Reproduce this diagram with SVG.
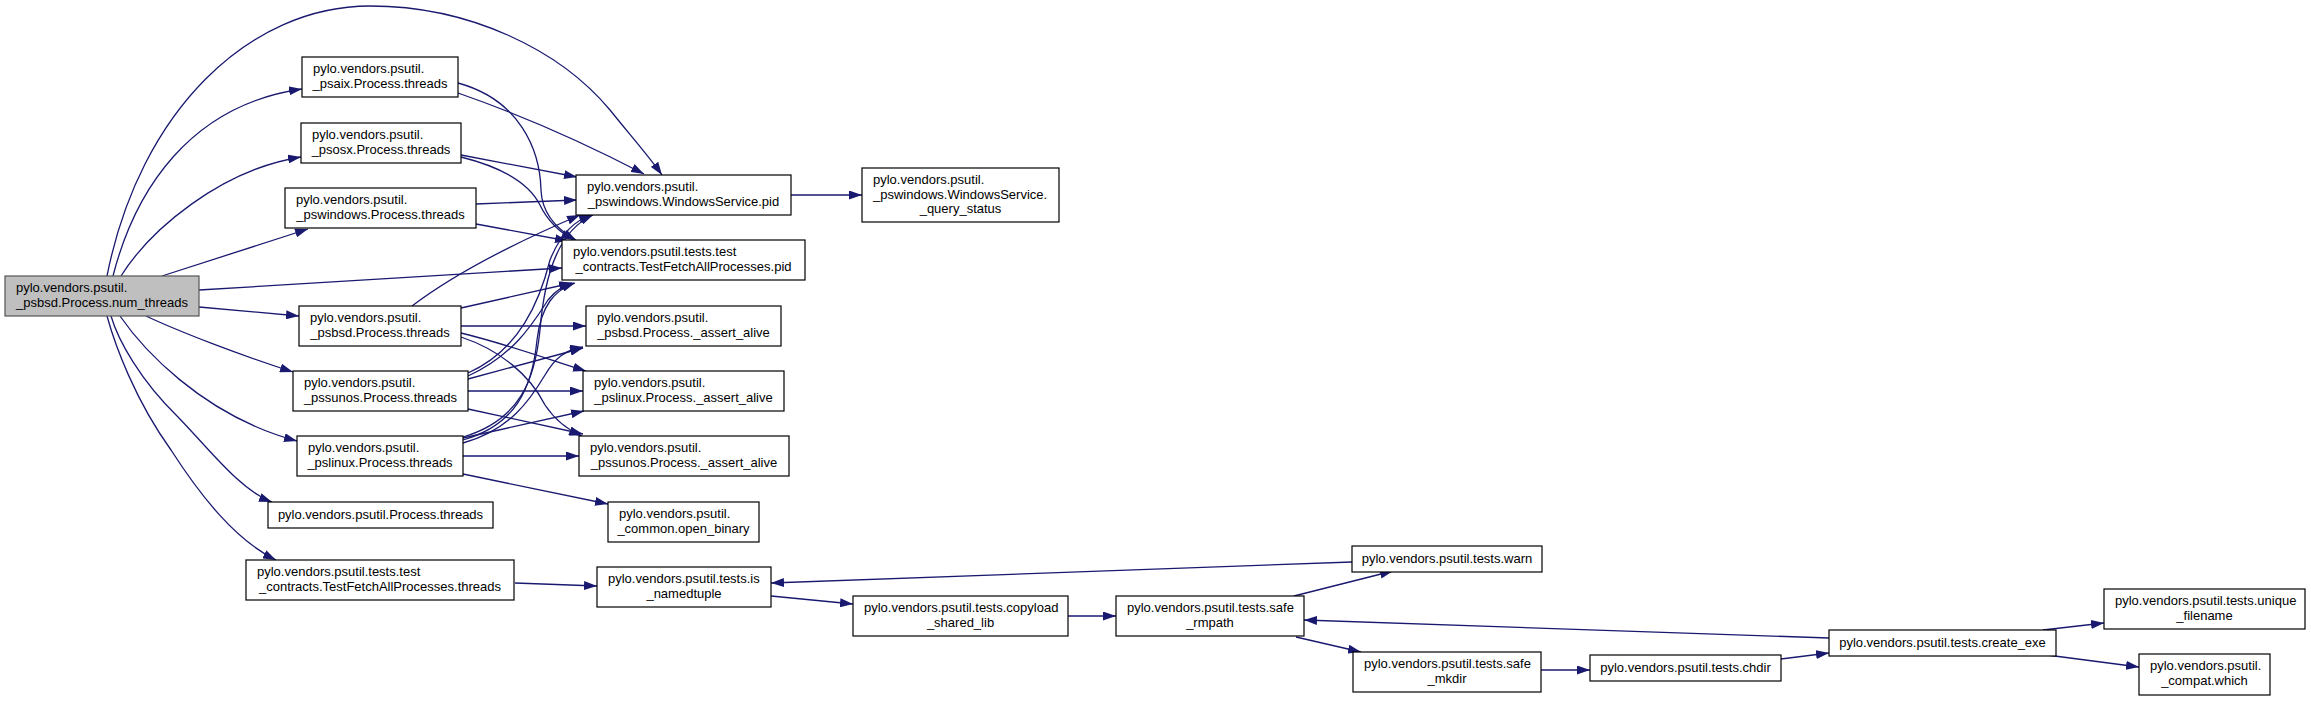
<svg xmlns="http://www.w3.org/2000/svg" width="2311" height="701" viewBox="0 0 2311 701">
<defs>
<style>
.n rect{fill:#ffffff;stroke:#000000;stroke-width:1.2}
.n.root rect{fill:#bfbfbf;stroke:#555555}
text{font-family:"Liberation Sans",Arial,Helvetica,sans-serif;font-size:13px;fill:#000}
.m{text-anchor:middle}
.e path{fill:none;stroke:#191970;stroke-width:1.3}
</style>
<marker id="ar" markerUnits="userSpaceOnUse" markerWidth="13" markerHeight="9" refX="13" refY="4.5" orient="auto">
<path d="M0,0L13,4.5L0,9z" fill="#191970"/>
</marker>
</defs>
<rect width="2311" height="701" fill="#ffffff"/>
<g class="e" id="edges">
<path d="M107,276 C140,110 250,6 370,6 C470,6 560,50 610,110 C630,135 648,155 662,175" marker-end="url(#ar)"/>
<path d="M113,276 C135,190 190,105 302,89" marker-end="url(#ar)"/>
<path d="M121,276 C150,230 220,170 301,157" marker-end="url(#ar)"/>
<path d="M162,276 L308,229" marker-end="url(#ar)"/>
<path d="M199,290 L562,268" marker-end="url(#ar)"/>
<path d="M199,307 L299,316" marker-end="url(#ar)"/>
<path d="M146,316 C180,332 240,355 293,372" marker-end="url(#ar)"/>
<path d="M120,316 C140,345 200,415 297,441" marker-end="url(#ar)"/>
<path d="M111,316 C118,340 140,380 178,417 C210,450 240,490 272,502" marker-end="url(#ar)"/>
<path d="M107,316 C115,345 135,400 171,450 C200,495 235,540 276,560" marker-end="url(#ar)"/>
<path d="M458,93 Q550,125 644,174" marker-end="url(#ar)"/>
<path d="M458,83 C520,100 540,150 541,190 C542,215 558,230 576,240" marker-end="url(#ar)"/>
<path d="M461,155 L577,177" marker-end="url(#ar)"/>
<path d="M461,157 C505,168 530,185 540,205 C547,220 560,233 574,240" marker-end="url(#ar)"/>
<path d="M476,204 L577,200" marker-end="url(#ar)"/>
<path d="M476,224 L568,241" marker-end="url(#ar)"/>
<path d="M412,306 Q470,262 580,215" marker-end="url(#ar)"/>
<path d="M461,308 L572,283" marker-end="url(#ar)"/>
<path d="M461,326 L586,326" marker-end="url(#ar)"/>
<path d="M461,333 C510,345 550,360 586,371" marker-end="url(#ar)"/>
<path d="M461,337 C500,350 530,375 545,405 C555,420 568,430 582,436" marker-end="url(#ar)"/>
<path d="M468,373 C520,350 540,300 550,260 C560,235 575,220 592,215" marker-end="url(#ar)"/>
<path d="M468,376 C515,355 535,320 548,300 C556,290 565,285 574,283" marker-end="url(#ar)"/>
<path d="M468,379 L583,348" marker-end="url(#ar)"/>
<path d="M468,391 L583,391" marker-end="url(#ar)"/>
<path d="M468,409 L583,434" marker-end="url(#ar)"/>
<path d="M463,437 C520,420 535,380 540,330 C545,270 560,230 593,215" marker-end="url(#ar)"/>
<path d="M463,440 C515,425 532,390 537,340 C541,305 555,290 575,283" marker-end="url(#ar)"/>
<path d="M463,443 C510,430 530,400 545,375 C555,358 565,350 583,347" marker-end="url(#ar)"/>
<path d="M463,438 L584,411" marker-end="url(#ar)"/>
<path d="M463,456 L579,456" marker-end="url(#ar)"/>
<path d="M463,474 L608,504" marker-end="url(#ar)"/>
<path d="M791,195 L862,195" marker-end="url(#ar)"/>
<path d="M515,583 L597,586" marker-end="url(#ar)"/>
<path d="M771,596 L853,604" marker-end="url(#ar)"/>
<path d="M1068,616 L1116,616" marker-end="url(#ar)"/>
<path d="M1294,596 L1393,571" marker-end="url(#ar)"/>
<path d="M1352,562 L771,583" marker-end="url(#ar)"/>
<path d="M1296,637 L1361,652" marker-end="url(#ar)"/>
<path d="M1541,670 L1590,670" marker-end="url(#ar)"/>
<path d="M1781,659 L1829,653" marker-end="url(#ar)"/>
<path d="M1829,638 L1304,620" marker-end="url(#ar)"/>
<path d="M2043,630 L2104,623" marker-end="url(#ar)"/>
<path d="M2047,655 L2139,667" marker-end="url(#ar)"/>
</g>
<g class="n root" id="n_num_threads"><rect x="5" y="276" width="194" height="40"/><text x="16" y="292">pylo.vendors.psutil.</text><text class="m" x="102" y="306.5">_psbsd.Process.num_threads</text></g>
<g class="n" id="n_psaix"><rect x="302" y="57" width="156" height="40"/><text x="313" y="73">pylo.vendors.psutil.</text><text class="m" x="380" y="87.5">_psaix.Process.threads</text></g>
<g class="n" id="n_psosx"><rect x="301" y="123" width="160" height="40"/><text x="312" y="139">pylo.vendors.psutil.</text><text class="m" x="381" y="153.5">_psosx.Process.threads</text></g>
<g class="n" id="n_pswindows"><rect x="285" y="188" width="191" height="40"/><text x="296" y="204">pylo.vendors.psutil.</text><text class="m" x="380.5" y="218.5">_pswindows.Process.threads</text></g>
<g class="n" id="n_psbsd"><rect x="299" y="306" width="162" height="40"/><text x="310" y="322">pylo.vendors.psutil.</text><text class="m" x="380" y="336.5">_psbsd.Process.threads</text></g>
<g class="n" id="n_pssunos"><rect x="293" y="371" width="175" height="40"/><text x="304" y="387">pylo.vendors.psutil.</text><text class="m" x="380.5" y="401.5">_pssunos.Process.threads</text></g>
<g class="n" id="n_pslinux"><rect x="297" y="436" width="166" height="40"/><text x="308" y="452">pylo.vendors.psutil.</text><text class="m" x="380" y="466.5">_pslinux.Process.threads</text></g>
<g class="n" id="n_process_threads"><rect x="268" y="502" width="225" height="26"/><text class="m" x="380.5" y="519">pylo.vendors.psutil.Process.threads</text></g>
<g class="n" id="n_tfap_threads"><rect x="246" y="560" width="268" height="40"/><text x="257" y="576">pylo.vendors.psutil.tests.test</text><text class="m" x="380" y="590.5">_contracts.TestFetchAllProcesses.threads</text></g>
<g class="n" id="n_ws_pid"><rect x="576" y="175" width="215" height="40"/><text x="587" y="191">pylo.vendors.psutil.</text><text class="m" x="683.5" y="205.5">_pswindows.WindowsService.pid</text></g>
<g class="n" id="n_query_status"><rect x="862" y="168" width="197" height="54"/><text x="873" y="184">pylo.vendors.psutil.</text><text x="873" y="198.5">_pswindows.WindowsService.</text><text class="m" x="960.5" y="213">_query_status</text></g>
<g class="n" id="n_tfap_pid"><rect x="562" y="240" width="243" height="40"/><text x="573" y="256">pylo.vendors.psutil.tests.test</text><text class="m" x="683.5" y="270.5">_contracts.TestFetchAllProcesses.pid</text></g>
<g class="n" id="n_psbsd_aa"><rect x="586" y="306" width="195" height="40"/><text x="597" y="322">pylo.vendors.psutil.</text><text class="m" x="683.5" y="336.5">_psbsd.Process._assert_alive</text></g>
<g class="n" id="n_pslinux_aa"><rect x="583" y="371" width="201" height="40"/><text x="594" y="387">pylo.vendors.psutil.</text><text class="m" x="683.5" y="401.5">_pslinux.Process._assert_alive</text></g>
<g class="n" id="n_pssunos_aa"><rect x="579" y="436" width="210" height="40"/><text x="590" y="452">pylo.vendors.psutil.</text><text class="m" x="684" y="466.5">_pssunos.Process._assert_alive</text></g>
<g class="n" id="n_open_binary"><rect x="608" y="502" width="151" height="40"/><text x="619" y="518">pylo.vendors.psutil.</text><text class="m" x="683.5" y="532.5">_common.open_binary</text></g>
<g class="n" id="n_is_namedtuple"><rect x="597" y="567" width="174" height="40"/><text x="608" y="583">pylo.vendors.psutil.tests.is</text><text class="m" x="684" y="597.5">_namedtuple</text></g>
<g class="n" id="n_copyload"><rect x="853" y="596" width="215" height="40"/><text x="864" y="612">pylo.vendors.psutil.tests.copyload</text><text class="m" x="960.5" y="626.5">_shared_lib</text></g>
<g class="n" id="n_warn"><rect x="1352" y="546" width="190" height="26"/><text class="m" x="1447" y="563">pylo.vendors.psutil.tests.warn</text></g>
<g class="n" id="n_safe_rmpath"><rect x="1116" y="596" width="188" height="40"/><text x="1127" y="612">pylo.vendors.psutil.tests.safe</text><text class="m" x="1210" y="626.5">_rmpath</text></g>
<g class="n" id="n_safe_mkdir"><rect x="1353" y="652" width="188" height="40"/><text x="1364" y="668">pylo.vendors.psutil.tests.safe</text><text class="m" x="1447" y="682.5">_mkdir</text></g>
<g class="n" id="n_chdir"><rect x="1590" y="655" width="191" height="26"/><text class="m" x="1685.5" y="672">pylo.vendors.psutil.tests.chdir</text></g>
<g class="n" id="n_create_exe"><rect x="1829" y="630" width="227" height="26"/><text class="m" x="1942.5" y="647">pylo.vendors.psutil.tests.create_exe</text></g>
<g class="n" id="n_unique_filename"><rect x="2104" y="589" width="201" height="40"/><text x="2115" y="605">pylo.vendors.psutil.tests.unique</text><text class="m" x="2204.5" y="619.5">_filename</text></g>
<g class="n" id="n_which"><rect x="2139" y="654" width="131" height="41"/><text x="2150" y="670">pylo.vendors.psutil.</text><text class="m" x="2204.5" y="684.5">_compat.which</text></g>
</svg>
